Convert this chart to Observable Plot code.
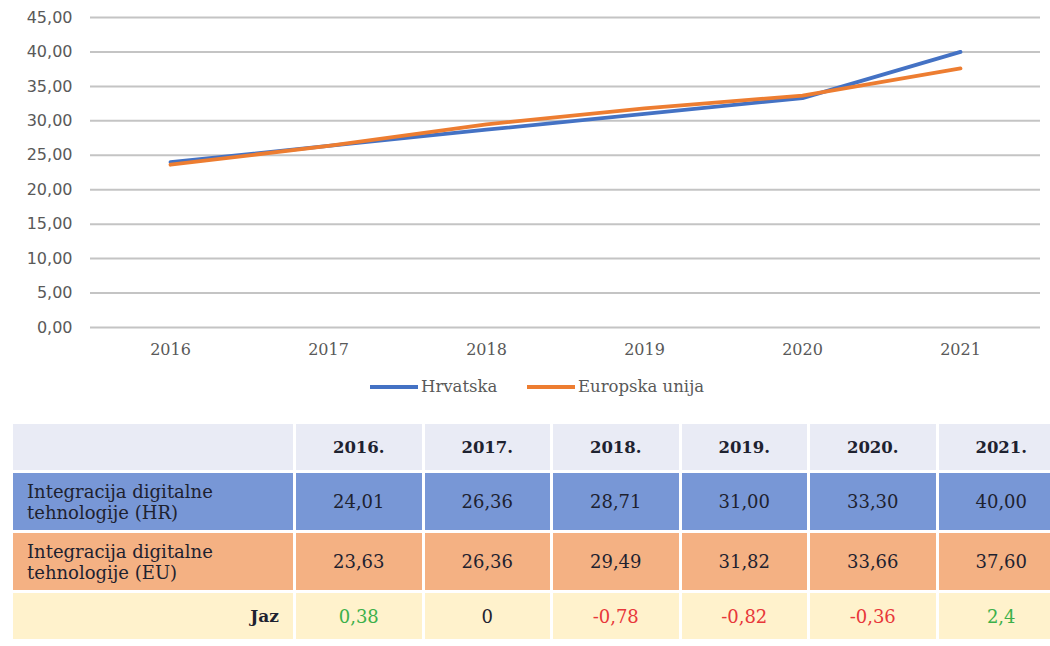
<!DOCTYPE html>
<html>
<head>
<meta charset="utf-8">
<script src="https://cdn.jsdelivr.net/npm/d3@7"></script>
<script src="https://cdn.jsdelivr.net/npm/@observablehq/plot@0.6"></script>
<style>
  html, body { margin: 0; padding: 0; background: #fff; overflow: hidden; width: 1050px; height: 646px; }
  #chart svg { display: block; }
  .legend { position: relative; height: 40px; font-family: "DejaVu Serif", serif; font-size: 16.5px; color: #595959; }
  .legend .item { position: absolute; top: 7px; display: flex; align-items: center; }
  .legend .sw { width: 48px; height: 4px; margin-right: 3px; }
  table { position: absolute; left: 10px; top: 421px; border-collapse: collapse; table-layout: fixed; width: 1054px; font-family: "DejaVu Serif", serif; font-size: 18px; color: #1e2230; }
  td, th { border: 3px solid #fff; padding: 0; text-align: center; }
  th { font-weight: bold; height: 46px; background: #e9ebf5; font-size: 16.5px; }
  tr.hr td { background: #7897d6; height: 57px; }
  tr.eu td { background: #f4b183; height: 57px; }
  tr.gap td { background: #fff2cc; height: 46px; }
  td.lab { text-align: left; padding-left: 14px; line-height: 21px; font-size: 18px; }
  td.jaz { text-align: right; padding-right: 14px; font-weight: bold; font-size: 17px; }
</style>
</head>
<body>
<div id="chart"></div>
<div class="legend" id="legend"></div>
<div id="tbl"></div>
<script>
const years = [2016, 2017, 2018, 2019, 2020, 2021];
const hrValues = [24.01, 26.36, 28.71, 31.00, 33.30, 40.00];
const euValues = [23.63, 26.36, 29.49, 31.82, 33.66, 37.60];
const gapValues = [0.38, 0, -0.78, -0.82, -0.36, 2.4];
const gapLabels = ["0,38", "0", "-0,78", "-0,82", "-0,36", "2,4"];
const yTicks = [0, 5, 10, 15, 20, 25, 30, 35, 40, 45];
const seriesNames = ["Hrvatska", "Europska unija"];
const seriesColors = ["#4472c4", "#ed7d31"];
const rowLabels = ["Integracija digitalne<br>tehnologije (HR)", "Integracija digitalne<br>tehnologije (EU)", "Jaz"];

const fmt2 = d => d.toFixed(2).replace(".", ",");

const hrData = years.map((y, i) => ({year: y, value: hrValues[i]}));
const euData = years.map((y, i) => ({year: y, value: euValues[i]}));

const plot = Plot.plot({
  width: 1050,
  height: 370,
  marginLeft: 90,
  marginRight: 10,
  marginTop: 17,
  marginBottom: 43,
  x: {type: "point", domain: years, padding: 0.5},
  y: {domain: [0, 45]},
  marks: [
    Plot.ruleY(yTicks, {stroke: "#c4c4c4", strokeWidth: 2}),
    Plot.axisY({ticks: yTicks, tickSize: 0, tickPadding: 18, tickFormat: fmt2, fontSize: 16, fontFamily: "DejaVu Sans", fill: "#595959", label: null}),
    Plot.axisX({tickSize: 0, tickPadding: 16, tickFormat: d => String(d), fontSize: 16, fontFamily: "DejaVu Serif", fill: "#595959", label: null}),
    Plot.line(hrData, {x: "year", y: "value", stroke: seriesColors[0], strokeWidth: 3.8}),
    Plot.line(euData, {x: "year", y: "value", stroke: seriesColors[1], strokeWidth: 3.8})
  ]
});
document.getElementById("chart").appendChild(plot);

const legend = document.getElementById("legend");
const legendLeft = [370, 527];
seriesNames.forEach((name, i) => {
  const item = document.createElement("div");
  item.className = "item";
  item.style.left = legendLeft[i] + "px";
  item.innerHTML = `<span class="sw" style="background:${seriesColors[i]}"></span><span>${name}</span>`;
  legend.appendChild(item);
});

const gapColor = v => v > 0 ? "#3cb04a" : v < 0 ? "#e8373a" : "#1e2230";
let html = "<table><colgroup><col style='width:283px'>" + years.map(() => "<col style='width:128.5px'>").join("") + "</colgroup>";
html += "<tr><th></th>" + years.map(y => `<th>${y}.</th>`).join("") + "</tr>";
html += `<tr class="hr"><td class="lab">${rowLabels[0]}</td>` + hrValues.map(v => `<td>${fmt2(v)}</td>`).join("") + "</tr>";
html += `<tr class="eu"><td class="lab">${rowLabels[1]}</td>` + euValues.map(v => `<td>${fmt2(v)}</td>`).join("") + "</tr>";
html += `<tr class="gap"><td class="jaz">${rowLabels[2]}</td>` + gapValues.map((v, i) => `<td style="color:${gapColor(v)}">${gapLabels[i]}</td>`).join("") + "</tr>";
html += "</table>";
document.getElementById("tbl").innerHTML = html;
</script>
</body>
</html>
